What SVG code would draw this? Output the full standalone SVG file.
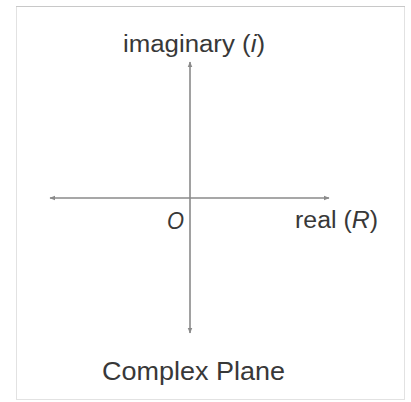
<svg xmlns="http://www.w3.org/2000/svg" width="411" height="402" viewBox="0 0 411 402">
<style>
.t{font-family:"Liberation Sans","Arial",sans-serif;fill:#383838}
.ax{stroke:#8a8a8a;stroke-width:1.6;fill:none}
</style>
<defs>
<marker id="ah" viewBox="0 0 10 10" refX="9" refY="5" markerWidth="6" markerHeight="6" orient="auto-start-reverse" markerUnits="userSpaceOnUse">
<path d="M0,1 L10,5 L0,9 Z" fill="#8a8a8a"/>
</marker>
</defs>
<rect width="411" height="402" fill="#ffffff"/>
<g id="frame">
<rect x="16.5" y="6.5" width="388" height="393" fill="none" stroke="#e2e2e2" stroke-width="1"/>
<line x1="16" y1="6.5" x2="405" y2="6.5" stroke="#c8c8c8" stroke-width="1"/>
</g>
<g id="connectors">
<line class="ax" x1="190" y1="333" x2="190" y2="62" marker-start="url(#ah)" marker-end="url(#ah)"/>
<line class="ax" x1="50" y1="198" x2="329" y2="198" marker-start="url(#ah)" marker-end="url(#ah)"/>
</g>
<g id="imaginary-label"><text class="t" x="123" y="52" font-size="23" textLength="142" lengthAdjust="spacingAndGlyphs">imaginary (<tspan font-style="italic">i</tspan>)</text></g>
<g id="origin-label"><text class="t" x="167" y="229" font-size="24" textLength="17" lengthAdjust="spacingAndGlyphs" font-style="italic">O</text></g>
<g id="real-label"><text class="t" x="295" y="228" font-size="23" textLength="83" lengthAdjust="spacingAndGlyphs">real (<tspan font-style="italic">R</tspan>)</text></g>
<g id="title"><text class="t" x="102" y="380" font-size="26" textLength="183" lengthAdjust="spacingAndGlyphs">Complex Plane</text></g>
</svg>
